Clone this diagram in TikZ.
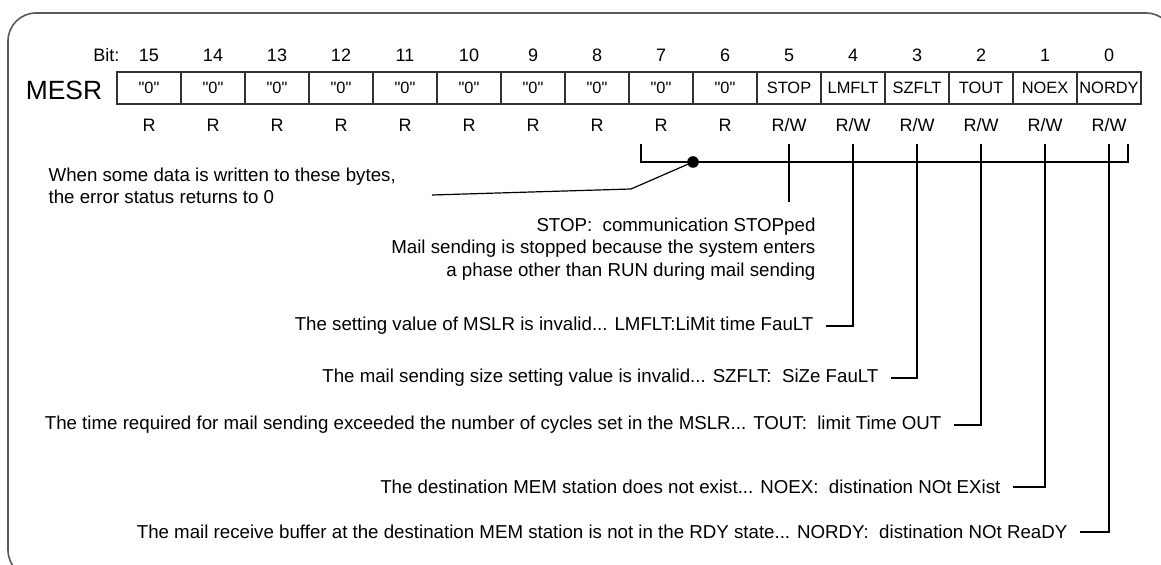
\documentclass[tikz,border=0pt]{standalone}
\usepackage{fontspec}
\setmainfont{Liberation Sans}
\usetikzlibrary{positioning}

\begin{document}
\begin{tikzpicture}[
    x=0.5pt, y=-0.5pt,
    line width=0.6pt,
    every node/.style={font=\fontsize{9}{11}\selectfont, inner sep=0pt},
    cell/.style={draw, black!80, text=black, minimum width=32pt, minimum height=16pt,
                 font=\fontsize{8.2}{10}\selectfont},
    note/.style={anchor=east, inner xsep=6pt, font=\fontsize{9.35}{11}\selectfont}
]
\useasboundingbox (0,0) rectangle (1161,565);

% Outer frame
\draw[line width=0.8pt, black!65, rounded corners=14pt] (8,13) rectangle (1174,578);

% Register MESR
\node[anchor=east] (bitlbl) at (120,55) {Bit:};
\node[font=\fontsize{13.2}{15}\selectfont] (mesr) at (64,90) {MESR};
\foreach \n/\txt/\acc [count=\i from 0] in {15/zero/R, 14/zero/R, 13/zero/R, 12/zero/R,
        11/zero/R, 10/zero/R, 9/zero/R, 8/zero/R, 7/zero/R, 6/zero/R,
        5/STOP/{R/W}, 4/LMFLT/{R/W}, 3/SZFLT/{R/W}, 2/TOUT/{R/W}, 1/NOEX/{R/W}, 0/NORDY/{R/W}} {
    \node[cell] (c\n) at ({149+64*\i},88)
        {\ifnum\n>5 \textquotedbl0\textquotedbl\else\txt\fi};
    \node (b\n) at ({149+64*\i},55) {\n};
    \node (a\n) at ({149+64*\i},125) {\acc};
}

% Descriptions
\node[anchor=west, align=left, font=\fontsize{9.35}{10.75}\selectfont] (errnote) at (48,186)
    {When some data is written to these bytes,\\the error status returns to 0};
\node[anchor=east, align=right, font=\fontsize{9.35}{11.25}\selectfont] (stopnote) at (816,249)
    {STOP:\ \ communication STOPped\\Mail sending is stopped because the system enters\\a phase other than RUN during mail sending};
\node[note] (lmflt) at (826,326) {The setting value of MSLR is invalid... LMFLT:LiMit time FauLT};
\node[note] (szflt) at (891,378) {The mail sending size setting value is invalid... SZFLT:\ \ SiZe FauLT};
\node[note] (tout)  at (954,425) {The time required for mail sending exceeded the number of cycles set in the MSLR... TOUT:\ \ limit Time OUT};
\node[note] (noex)  at (1013,487) {The destination MEM station does not exist... NOEX:\ \ distination NOt EXist};
\node[note] (nordy) at (1080,532) {The mail receive buffer at the destination MEM station is not in the RDY state... NORDY:\ \ distination NOt ReaDY};

% Line ends
\coordinate (t5) at (789,144);
\coordinate (t4) at (853,144);
\coordinate (t3) at (917,144);
\coordinate (t2) at (981,144);
\coordinate (t1) at (1045,144);
\coordinate (t0) at (1109,144);
\coordinate (brl) at (641,144);
\coordinate (brr) at (1128,144);
\coordinate (hub) at (693,162);
\coordinate (bend) at (631,189);
\coordinate (noteend) at (432,195);
\coordinate (stopend) at (789,202);

% Bracket over bits 7..0
\draw (brl) |- (hub) -- (hub -| brr) -- (brr);
\fill (hub) circle (2.9pt);
\draw (noteend) -- (bend) -- (hub);

% Leaders
\draw (t5) -- (stopend);
\draw (lmflt.east) -| (t4);
\draw (szflt.east) -| (t3);
\draw (tout.east)  -| (t2);
\draw (noex.east)  -| (t1);
\draw (nordy.east) -| (t0);

\end{tikzpicture}
\end{document}
